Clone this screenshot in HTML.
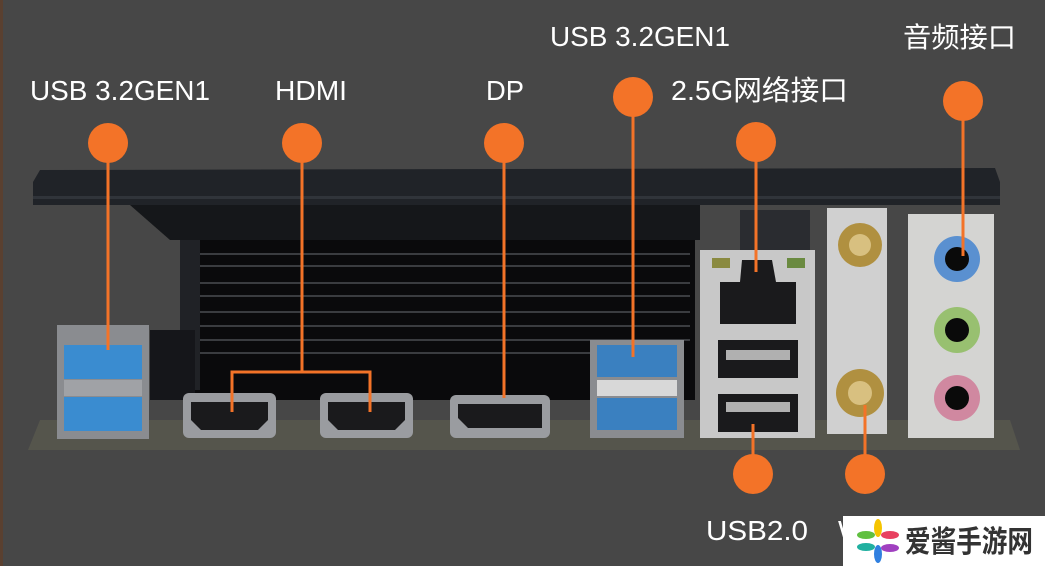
<!DOCTYPE html>
<html><head><meta charset="utf-8"><style>
html,body{margin:0;padding:0;background:#474747;}
svg{display:block}
text{font-family:"Liberation Sans","Noto Sans CJK SC",sans-serif;fill:#fff}
</style></head><body>
<svg width="1045" height="566" viewBox="0 0 1045 566">
<rect width="1045" height="566" fill="#474747"/>
<rect x="0" y="0" width="3" height="566" fill="#5a4030"/>
<!-- base board -->
<polygon points="40,420 1010,420 1020,450 28,450" fill="#55554c"/>
<!-- heatsink fins -->
<rect x="195" y="205" width="500" height="195" fill="#0a0a0c"/>
<g stroke="#3a3c40" stroke-width="2">
<line x1="200" y1="254" x2="690" y2="254"/><line x1="200" y1="266" x2="690" y2="266"/>
<line x1="200" y1="283" x2="690" y2="283"/><line x1="200" y1="296" x2="690" y2="296"/>
<line x1="200" y1="312" x2="690" y2="312"/><line x1="200" y1="326" x2="690" y2="326"/>
<line x1="200" y1="340" x2="690" y2="340"/><line x1="200" y1="353" x2="600" y2="353"/>
</g>
<polygon points="130,205 700,205 700,240 170,240" fill="#15171a"/>
<rect x="180" y="240" width="20" height="150" fill="#202226"/>
<rect x="150" y="330" width="45" height="70" fill="#15161a"/>
<!-- top plate -->
<polygon points="40,170 995,168 1000,182 1000,205 33,205 33,182" fill="#202328"/>
<rect x="33" y="196" width="967" height="3" fill="#30343a"/>
<!-- left usb -->
<rect x="57" y="325" width="92" height="114" fill="#8a8c90"/>
<rect x="64" y="345" width="78" height="34" fill="#3a8cd0"/>
<rect x="64" y="397" width="78" height="34" fill="#3a8cd0"/>
<rect x="64" y="380" width="78" height="16" fill="#a0a2a6"/>
<!-- HDMI -->
<g fill="#9a9ca0"><rect x="183" y="393" width="93" height="45" rx="6"/><rect x="320" y="393" width="93" height="45" rx="6"/><rect x="450" y="395" width="100" height="43" rx="6"/></g>
<g fill="#1a1a1c"><polygon points="191,402 268,402 268,420 258,430 201,430 191,420"/><polygon points="328,402 405,402 405,420 395,430 338,430 328,420"/><polygon points="458,404 542,404 542,428 468,428 458,418"/></g>
<!-- right usb3 -->
<rect x="590" y="340" width="94" height="98" fill="#8a8c90"/>
<rect x="597" y="345" width="80" height="32" fill="#3a80c0"/>
<rect x="597" y="398" width="80" height="32" fill="#3a80c0"/>
<rect x="597" y="380" width="80" height="16" fill="#d8d8d8"/>
<!-- LAN -->
<rect x="740" y="210" width="70" height="45" fill="#2a2c30"/>
<rect x="700" y="250" width="115" height="188" fill="#c8c8c8"/>
<rect x="720" y="282" width="76" height="42" fill="#1a1a1c"/>
<polygon points="740,282 742,260 772,260 776,282" fill="#1a1a1c"/>
<rect x="712" y="258" width="18" height="10" fill="#8a8a40"/><rect x="787" y="258" width="18" height="10" fill="#6a8a40"/>
<rect x="718" y="340" width="80" height="38" fill="#1a1a1c"/><rect x="726" y="350" width="64" height="10" fill="#b0b0b0"/>
<rect x="718" y="394" width="80" height="38" fill="#1a1a1c"/><rect x="726" y="402" width="64" height="10" fill="#b0b0b0"/>
<!-- antenna -->
<rect x="827" y="208" width="60" height="226" fill="#d0d0d0"/>
<circle cx="860" cy="245" r="22" fill="#b09040"/><circle cx="860" cy="245" r="11" fill="#d8c080"/>
<circle cx="860" cy="393" r="24" fill="#b09040"/><circle cx="860" cy="393" r="12" fill="#d8c080"/>
<!-- audio -->
<rect x="908" y="214" width="86" height="224" fill="#d4d4d2"/>
<circle cx="957" cy="259" r="23" fill="#5a90d0"/><circle cx="957" cy="259" r="12" fill="#0a0a0a"/>
<circle cx="957" cy="330" r="23" fill="#98c070"/><circle cx="957" cy="330" r="12" fill="#0a0a0a"/>
<circle cx="957" cy="398" r="23" fill="#d088a0"/><circle cx="957" cy="398" r="12" fill="#0a0a0a"/>
<!-- connectors -->
<g stroke="#f37328" stroke-width="3" fill="none">
<line x1="108" y1="143" x2="108" y2="350"/>
<polyline points="302,143 302,372"/>
<polyline points="232,412 232,372 370,372 370,412"/>
<line x1="504" y1="143" x2="504" y2="398"/>
<line x1="633" y1="97" x2="633" y2="357"/>
<line x1="756" y1="142" x2="756" y2="272"/>
<line x1="963" y1="101" x2="963" y2="256"/>
<line x1="753" y1="474" x2="753" y2="424"/>
<line x1="865" y1="474" x2="865" y2="405"/>
</g>
<g fill="#f37328">
<circle cx="108" cy="143" r="20"/><circle cx="302" cy="143" r="20"/><circle cx="504" cy="143" r="20"/>
<circle cx="633" cy="97" r="20"/><circle cx="756" cy="142" r="20"/><circle cx="963" cy="101" r="20"/>
<circle cx="753" cy="474" r="20"/><circle cx="865" cy="474" r="20"/>
</g>
<!-- labels -->
<g font-size="28">
<text x="30" y="100" textLength="180" lengthAdjust="spacingAndGlyphs">USB 3.2GEN1</text>
<text x="275" y="100" textLength="72" lengthAdjust="spacingAndGlyphs">HDMI</text>
<text x="486" y="100" textLength="38" lengthAdjust="spacingAndGlyphs">DP</text>
<text x="550" y="46" textLength="180" lengthAdjust="spacingAndGlyphs">USB 3.2GEN1</text>
<text x="671" y="100" textLength="177" lengthAdjust="spacingAndGlyphs">2.5G网络接口</text>
<text x="903" y="47" textLength="113" lengthAdjust="spacingAndGlyphs">音频接口</text>
<text x="706" y="540" textLength="102" lengthAdjust="spacingAndGlyphs">USB2.0</text>
<text x="838" y="540">W</text>
</g>
<!-- watermark -->
<rect x="843" y="516" width="202" height="50" fill="#fff"/>
<g transform="translate(878,541)">
<ellipse cx="0" cy="-13" rx="4" ry="9" fill="#f5c400"/>
<ellipse cx="12" cy="-6" rx="9" ry="4" fill="#e84060"/>
<ellipse cx="12" cy="7" rx="9" ry="4" fill="#a040c0"/>
<ellipse cx="0" cy="13" rx="4" ry="9" fill="#3080e0"/>
<ellipse cx="-12" cy="6" rx="9" ry="4" fill="#20b0a0"/>
<ellipse cx="-12" cy="-6" rx="9" ry="4" fill="#60c040"/>
</g>
<text x="905" y="552" font-size="30" font-weight="bold" style="fill:#333" textLength="128" lengthAdjust="spacingAndGlyphs">爱酱手游网</text>
</svg>
</body></html>
